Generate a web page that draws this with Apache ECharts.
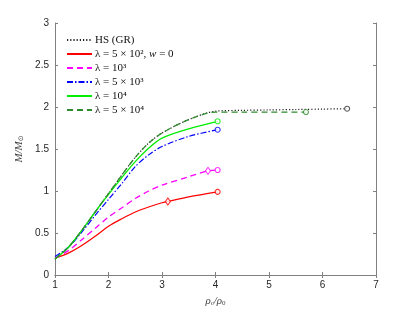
<!DOCTYPE html>
<html><head><meta charset="utf-8">
<script src="https://cdn.jsdelivr.net/npm/echarts@6/dist/echarts.min.js"></script>
<style>html,body{margin:0;padding:0;background:#fff}#c{width:415px;height:312px}</style>
</head><body><div id="c"></div>
<script>
// Data
const xTicks = [1, 2, 3, 4, 5, 6, 7];
const yTicks = [0, 0.5, 1, 1.5, 2, 2.5, 3];

const hsX = [1, 1.25, 1.5, 1.75, 2, 2.25, 2.5, 2.75, 3, 3.5, 4, 4.5, 5, 5.5, 6, 6.46];
const hsY = [0.19, 0.33, 0.53, 0.75, 0.97, 1.19, 1.40, 1.57, 1.69, 1.85, 1.95, 1.96, 1.965, 1.97, 1.975, 1.98];

const redX = [1, 1.25, 1.5, 1.75, 2, 2.25, 2.5, 2.75, 3, 3.11, 3.5, 4.04];
const redY = [0.20, 0.26, 0.35, 0.46, 0.58, 0.67, 0.75, 0.81, 0.86, 0.875, 0.93, 0.99];

const magX = [1, 1.25, 1.5, 1.75, 2, 2.25, 2.5, 2.75, 3, 3.5, 3.86, 4.04];
const magY = [0.20, 0.29, 0.42, 0.555, 0.69, 0.80, 0.91, 1.00, 1.07, 1.17, 1.24, 1.25];

const bluX = [1, 1.25, 1.5, 1.75, 2, 2.25, 2.5, 2.75, 3, 3.5, 4.04];
const bluY = [0.22, 0.33, 0.51, 0.71, 0.90, 1.09, 1.29, 1.43, 1.53, 1.65, 1.73];

const grnX = [1, 1.25, 1.5, 1.75, 2, 2.25, 2.5, 2.75, 3, 3.5, 4.04];
const grnY = [0.19, 0.33, 0.53, 0.75, 0.96, 1.16, 1.35, 1.51, 1.63, 1.74, 1.83];

const dgX = [1, 1.25, 1.5, 1.75, 2, 2.25, 2.5, 2.75, 3, 3.5, 4, 4.5, 5, 5.69];
const dgY = [0.19, 0.33, 0.53, 0.75, 0.97, 1.19, 1.40, 1.57, 1.69, 1.85, 1.94, 1.94, 1.94, 1.94];

// end markers (circles) and diamond markers
const circleEnds = [
  {x: 6.46, y: 1.98, c: '#333333'},
  {x: 4.04, y: 0.99, c: '#ff0000'},
  {x: 4.04, y: 1.25, c: '#ff00ff'},
  {x: 4.04, y: 1.73, c: '#0000ff'},
  {x: 4.04, y: 1.83, c: '#00ee00'},
  {x: 5.69, y: 1.94, c: '#2e8b2e'}
];
const diamonds = [
  {x: 3.11, y: 0.875, c: '#ff0000'},
  {x: 3.86, y: 1.24, c: '#ff00ff'}
];

const names = ['HS (GR)', 'l1', 'l2', 'l3', 'l4', 'l5'];
const legendLabels = {
  'HS (GR)': 'HS (GR)',
  'l1': 'λ = 5 × 10², {i|w} = 0',
  'l2': 'λ = 10³',
  'l3': 'λ = 5 × 10³',
  'l4': 'λ = 10⁴',
  'l5': 'λ = 5 × 10⁴'
};

function zip(xs, ys) { return xs.map((x, i) => [x, ys[i]]); }

const axisCol = '#808080';
const lineSeries = (name, xs, ys, color, type, width) => ({
  name, type: 'line', data: zip(xs, ys), showSymbol: false, symbol: 'none',
  smooth: 0.3,
  lineStyle: {color, type, width}, itemStyle: {color}, z: 3
});

const series = [
  lineSeries('HS (GR)', hsX, hsY, '#222222', [1.2, 2], 1.2),
  lineSeries('l1', redX, redY, '#ff0000', 'solid', 1.2),
  lineSeries('l2', magX, magY, '#ff00ff', [6, 4], 1.3),
  lineSeries('l3', bluX, bluY, '#0000ff', [6, 2, 1.5, 2], 1.2),
  lineSeries('l4', grnX, grnY, '#00ee00', 'solid', 1.3),
  lineSeries('l5', dgX, dgY, '#2e8b2e', [6, 4], 1.3)
];
circleEnds.forEach(p => series.push({
  type: 'scatter', data: [[p.x, p.y]], symbol: 'circle', symbolSize: 5,
  itemStyle: {color: '#fff', borderColor: p.c, borderWidth: 1.1}, z: 5, silent: true
}));
diamonds.forEach(p => series.push({
  type: 'scatter', data: [[p.x, p.y]], symbol: 'diamond', symbolSize: [5, 7],
  itemStyle: {color: '#fff', borderColor: p.c, borderWidth: 1.1}, z: 5, silent: true
}));

const chart = echarts.init(document.getElementById('c'), null, {renderer: 'canvas'});
const tickLbl = {color: '#262626', fontSize: 10, fontFamily: 'Liberation Sans, Arial', margin: 5};
chart.setOption({
  animation: false,
  backgroundColor: '#fff',
  grid: {left: 55, right: 39, top: 23, bottom: 35},
  legend: {
    data: names, orient: 'vertical', left: 61, top: 32, padding: [2, 5, 2, 5],
    itemWidth: 25, itemHeight: 8, itemGap: 2,
    itemStyle: {opacity: 0},
    formatter: n => legendLabels[n],
    textStyle: {fontFamily: 'Liberation Serif, DejaVu Serif', fontSize: 11, color: '#111', lineHeight: 12, padding: [0, 0, 0, -2],
      rich: {i: {fontStyle: 'italic', fontFamily: 'Liberation Serif', fontSize: 11, color: '#111', lineHeight: 12}}}
  },
  xAxis: [{
    type: 'value', min: 1, max: 7, interval: 1,
    name: '{i|ρ}{s|c}{i|/ρ}{s|0}', nameLocation: 'middle', nameGap: 20,
    nameTextStyle: {color: '#444', rich: {
      i: {fontStyle: 'italic', fontFamily: 'Liberation Serif', fontSize: 11, color: '#444'},
      s: {fontFamily: 'Liberation Serif', fontSize: 7, color: '#444', verticalAlign: 'bottom', padding: [5, 0, 0, 0]}
    }},
    axisLine: {show: true, lineStyle: {color: axisCol}},
    axisTick: {inside: true, length: 3, lineStyle: {color: axisCol}},
    axisLabel: tickLbl, splitLine: {show: false}
  }, {
    type: 'value', min: 1, max: 7, interval: 1, position: 'top',
    axisLine: {show: true, lineStyle: {color: axisCol}},
    axisTick: {inside: true, length: 3, lineStyle: {color: axisCol}},
    axisLabel: {show: false}, splitLine: {show: false}
  }],
  yAxis: [{
    type: 'value', min: 0, max: 3, interval: 0.5,
    name: '{i|M/M}{s|⊙}', nameLocation: 'middle', nameGap: 30, nameRotate: 90,
    nameTextStyle: {color: '#444', rich: {
      i: {fontStyle: 'italic', fontFamily: 'Liberation Serif', fontSize: 11, color: '#444'},
      s: {fontFamily: 'DejaVu Sans', fontSize: 7, color: '#444', verticalAlign: 'bottom', padding: [4, 0, 0, 0]}
    }},
    axisLine: {show: true, lineStyle: {color: axisCol}},
    axisTick: {inside: true, length: 3, lineStyle: {color: axisCol}},
    axisLabel: Object.assign({}, tickLbl, {margin: 6}), splitLine: {show: false}
  }, {
    type: 'value', min: 0, max: 3, interval: 0.5, position: 'right',
    axisLine: {show: true, lineStyle: {color: axisCol}},
    axisTick: {inside: true, length: 3, lineStyle: {color: axisCol}},
    axisLabel: {show: false}, splitLine: {show: false}
  }],
  series
});
</script></body></html>
